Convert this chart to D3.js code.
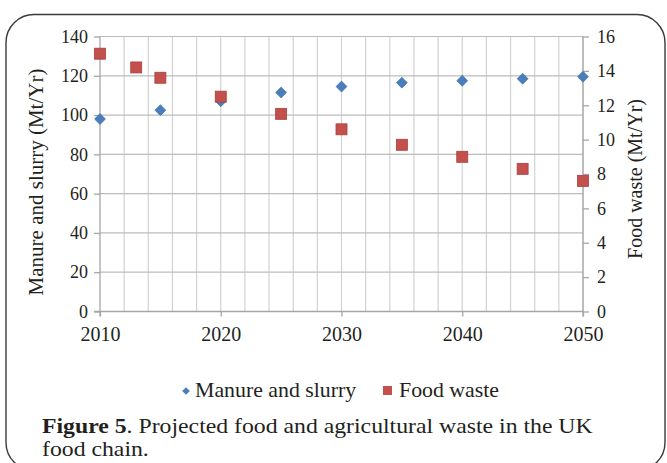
<!DOCTYPE html>
<html>
<head>
<meta charset="utf-8">
<script src="https://cdn.jsdelivr.net/npm/d3@7"></script>
<style>
  html, body { margin: 0; padding: 0; background: #fff; }
  svg { display: block; }
  text { font-family: "Liberation Serif", "Times New Roman", serif; fill: #231f20; }
</style>
</head>
<body>
<svg id="chart" width="667" height="463"></svg>
<script>
// Projected waste, Mt per year
const manureYears = [2010, 2015, 2020, 2025, 2030, 2035, 2040, 2045, 2050];
const manureValues = [98, 102.5, 107, 111.5, 114.5, 116.5, 117.5, 118.5, 119.5];
const foodYears = [2010, 2013, 2015, 2020, 2025, 2030, 2035, 2040, 2045, 2050];
const foodValues = [15.0, 14.2, 13.6, 12.5, 11.5, 10.6, 9.7, 9.0, 8.3, 7.6];

const xTicks = [2010, 2020, 2030, 2040, 2050];
const xGridYears = d3.range(2010, 2051, 2);
const leftTicks = [0, 20, 40, 60, 80, 100, 120, 140];
const rightTicks = [0, 2, 4, 6, 8, 10, 12, 14, 16];

const seriesNames = ["Manure and slurry", "Food waste"];
const leftTitle = "Manure and slurry (Mt/Yr)";
const rightTitle = "Food waste (Mt/Yr)";

const blue = "#4a7ebb";
const red = "#c4504d";

const svg = d3.select("#chart");

// outer frame with rounded corners
svg.append("rect")
  .attr("x", 6).attr("y", 14.5)
  .attr("width", 659).attr("height", 456)
  .attr("rx", 28).attr("ry", 28)
  .attr("fill", "none").attr("stroke", "#3a3a3a").attr("stroke-width", 1.4);

const plot = { left: 100, right: 583, top: 36.5, bottom: 311.5 };

const x = d3.scaleLinear().domain([2010, 2050]).range([plot.left, plot.right]);
const yL = d3.scaleLinear().domain([0, 140]).range([plot.bottom, plot.top]);
const yR = d3.scaleLinear().domain([0, 16]).range([plot.bottom, plot.top]);

// vertical grid every two years
svg.append("g").selectAll("line").data(xGridYears.slice(1)).join("line")
  .attr("x1", d => x(d)).attr("x2", d => x(d))
  .attr("y1", plot.top).attr("y2", plot.bottom)
  .attr("stroke", "#d2d2d2").attr("stroke-width", 1.2);

// horizontal grid
svg.append("g").selectAll("line").data(leftTicks.slice(1)).join("line")
  .attr("x1", plot.left).attr("x2", plot.right)
  .attr("y1", d => yL(d)).attr("y2", d => yL(d))
  .attr("stroke", "#bcbcbc").attr("stroke-width", 1.2);

function styleAxis(size) {
  return g => {
    g.select(".domain").attr("stroke", "#a6a6a6").attr("stroke-width", 1.3);
    g.selectAll(".tick line").attr("stroke", "#a6a6a6").attr("stroke-width", 1.3);
    g.selectAll(".tick text").style("font-size", size + "px").attr("fill", "#231f20");
  };
}

// left axis
svg.append("g")
  .attr("transform", `translate(${plot.left},0)`)
  .call(d3.axisLeft(yL).tickValues(leftTicks).tickSize(6).tickSizeOuter(0).tickPadding(6))
  .call(styleAxis(18))
  .call(g => g.select(".domain").attr("d", `M0,${plot.top}V${plot.bottom + 5}`));

// right axis
svg.append("g")
  .attr("transform", `translate(${plot.right},0)`)
  .call(d3.axisRight(yR).tickValues(rightTicks).tickSize(6).tickSizeOuter(0).tickPadding(8))
  .call(styleAxis(18))
  .call(g => g.select(".domain").attr("d", `M0,${plot.top}V${plot.bottom + 5}`));

// bottom axis
svg.append("g")
  .attr("transform", `translate(0,${plot.bottom})`)
  .call(d3.axisBottom(x).tickValues(xTicks).tickFormat(d3.format("d")).tickSize(5).tickSizeOuter(0).tickPadding(10))
  .call(styleAxis(20))
  .call(g => g.select(".domain").attr("d", `M${plot.left - 6},0H${plot.right}`));

// axis titles
svg.append("text")
  .attr("transform", `translate(43,182) rotate(-90)`)
  .attr("text-anchor", "middle").style("font-size", "21px")
  .text(leftTitle);

svg.append("text")
  .attr("transform", `translate(642,179) rotate(-90)`)
  .attr("text-anchor", "middle").style("font-size", "20px")
  .text(rightTitle);

// diamond markers for manure and slurry
const diamond = d3.symbol().type(d3.symbolSquare).size(60);
svg.append("g").selectAll("path").data(manureYears.map((yr, i) => [yr, manureValues[i]])).join("path")
  .attr("d", diamond)
  .attr("transform", d => `translate(${x(d[0])},${yL(d[1])}) rotate(45)`)
  .attr("fill", blue).attr("stroke", "#3f6fa8").attr("stroke-width", 0.6);

// square markers for food waste
const sq = 11;
svg.append("g").selectAll("rect").data(foodYears.map((yr, i) => [yr, foodValues[i]])).join("rect")
  .attr("x", d => x(d[0]) - sq / 2).attr("y", d => yR(d[1]) - sq / 2)
  .attr("width", sq).attr("height", sq)
  .attr("fill", red).attr("stroke", "#a9403d").attr("stroke-width", 0.8);

// legend
const legend = svg.append("g");
legend.append("path")
  .attr("d", d3.symbol().type(d3.symbolSquare).size(30))
  .attr("transform", "translate(186,391) rotate(45)")
  .attr("fill", blue);
legend.append("text")
  .attr("transform", "translate(195,397) scale(1.04,1)")
  .style("font-size", "21px").text(seriesNames[0]);
legend.append("rect").attr("x", 383).attr("y", 386).attr("width", 9).attr("height", 9).attr("fill", red);
legend.append("text")
  .attr("transform", "translate(399,397) scale(1.04,1)")
  .style("font-size", "21px").text(seriesNames[1]);

// caption
const cap = svg.append("text")
  .attr("transform", "translate(42,433) scale(1.08,1)")
  .style("font-size", "22px");
cap.append("tspan").attr("font-weight", "bold").text("Figure 5");
cap.append("tspan").text(". Projected food and agricultural waste in the UK");
svg.append("text")
  .attr("transform", "translate(42,456) scale(1.08,1)")
  .style("font-size", "22px").text("food chain.");
</script>
</body>
</html>
